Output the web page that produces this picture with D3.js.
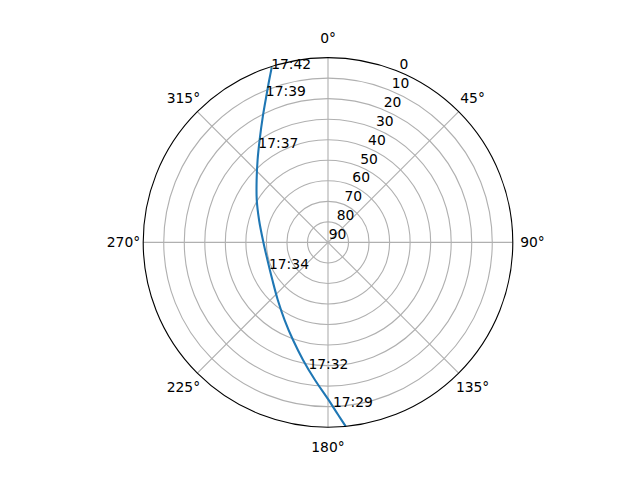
<!DOCTYPE html>
<html>
<head>
<meta charset="utf-8">
<script src="https://cdn.jsdelivr.net/npm/d3@7"></script>
<style>
  html, body { margin: 0; padding: 0; background: #fff; }
  text { font-family: "DejaVu Sans", sans-serif; font-size: 13.89px; fill: #000; }
</style>
</head>
<body>
<svg id="chart"></svg>
<script>
// pass track: azimuth (deg, clockwise from north) and elevation (deg)
const azimuth   = [174.5, 176.6, 179.8, 185.4, 192.0, 199.7, 209.2, 221.1, 235.9, 253.8,
                   270.4, 288.0, 300.8, 311.2, 319.5, 326.3, 332.6, 337.7, 340.1, 342.2];
const elevation = [0.0, 5.8, 13.3, 22.7, 31.5, 39.5, 46.7, 52.8, 57.3, 59.3,
                   58.5, 54.7, 49.6, 43.8, 37.2, 30.0, 21.0, 11.5, 5.9, 0.4];

// time annotations
const timeLabels = ['17:29', '17:32', '17:34', '17:37', '17:39', '17:42'];
const timeAz     = [178.3, 188.8, 245.9, 323.7, 337.0, 341.8];
const timeEl     = [9.7, 27.6, 58.5, 32.7, 12.5, 1.3];

// ticks
const radialTicks = [0, 10, 20, 30, 40, 50, 60, 70, 80, 90];
const angleTicks  = [0, 45, 90, 135, 180, 225, 270, 315];

const width = 640, height = 480;
const cx = 328, cy = 242.4, R = 184.8;
const rad = Math.PI / 180;

const svg = d3.select('#chart')
    .attr('width', width)
    .attr('height', height)
    .style('background-color', '#fff');

// elevation 90 at the centre, 0 at the rim
const rScale = d3.scaleLinear().domain([90, 0]).range([0, R]);

const g = svg.append('g').attr('transform', `translate(${cx},${cy})`);

// grid circles
g.selectAll('.rgrid')
    .data(radialTicks.filter(d => d > 0 && d < 90))
    .enter().append('circle')
    .attr('class', 'rgrid')
    .attr('r', d => rScale(d))
    .attr('fill', 'none')
    .attr('stroke', '#b0b0b0')
    .attr('stroke-width', 1.11);

// spokes
g.selectAll('.tgrid')
    .data(angleTicks)
    .enter().append('line')
    .attr('class', 'tgrid')
    .attr('x1', 0).attr('y1', 0)
    .attr('x2', d => R * Math.sin(d * rad))
    .attr('y2', d => -R * Math.cos(d * rad))
    .attr('stroke', '#b0b0b0')
    .attr('stroke-width', 1.11);

// track
const line = d3.lineRadial()
    .angle(d => d[0] * rad)
    .radius(d => rScale(d[1]))
    .curve(d3.curveCatmullRom.alpha(0.5));

g.append('path')
    .datum(azimuth.map((a, i) => [a, elevation[i]]))
    .attr('d', line)
    .attr('fill', 'none')
    .attr('stroke', '#1f77b4')
    .attr('stroke-width', 2.08)
    .attr('stroke-linejoin', 'round');

// outer spine
g.append('circle')
    .attr('r', R)
    .attr('fill', 'none')
    .attr('stroke', '#000')
    .attr('stroke-width', 1.11);

// radial labels at 22.5 deg
const labAng = 22.5 * rad;
g.selectAll('.rlabel')
    .data(radialTicks)
    .enter().append('text')
    .attr('class', 'rlabel')
    .attr('x', d => rScale(d) * Math.sin(labAng) + 0.8)
    .attr('y', d => -rScale(d) * Math.cos(labAng) - 3)
    .text(d => d);

// angle labels
const tR = R + 19.7;
g.selectAll('.tlabel')
    .data(angleTicks)
    .enter().append('text')
    .attr('class', 'tlabel')
    .attr('text-anchor', 'middle')
    .attr('x', d => tR * Math.sin(d * rad))
    .attr('y', d => -tR * Math.cos(d * rad) + 5)
    .text(d => d + '°');

// time annotations
g.selectAll('.time')
    .data(timeLabels)
    .enter().append('text')
    .attr('class', 'time')
    .attr('x', (d, i) => rScale(timeEl[i]) * Math.sin(timeAz[i] * rad))
    .attr('y', (d, i) => -rScale(timeEl[i]) * Math.cos(timeAz[i] * rad))
    .text(d => d);
</script>
</body>
</html>
